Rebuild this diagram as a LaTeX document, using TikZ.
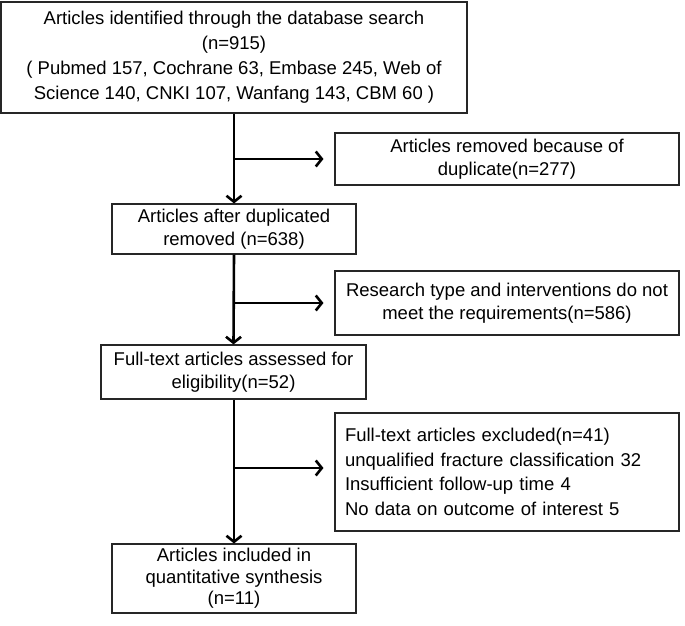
\documentclass[tikz,border=0pt]{standalone}
\usepackage{fontspec}
\setmainfont{Liberation Sans}
\usetikzlibrary{arrows.meta,calc}
\begin{document}
\begin{tikzpicture}[x=1pt,y=-1pt,
  box/.style={draw=black!85, line width=1.1pt, inner sep=0pt, align=center,
    font=\fontsize{18.5pt}{23pt}\selectfont},
  arr/.style={line width=2.6pt, -{Straight Barb[length=6pt,width=15pt]}}]
\useasboundingbox (0,0) rectangle (685,626);
\node[box, minimum width=466pt, minimum height=111pt, font=\fontsize{18.5pt}{25pt}\selectfont] (b1) at (234,57.5)
  {Articles identified through the database search\\(n=915)\\( Pubmed 157, Cochrane 63, Embase 245, Web of\\Science 140, CNKI 107, Wanfang 143, CBM 60 )};
\node[box, minimum width=344pt, minimum height=52pt] (r1) at (507,159)
  {Articles removed because of\\duplicate(n=277)};
\node[box, minimum width=244pt, minimum height=50pt] (b2) at (234,229)
  {Articles after duplicated\\removed (n=638)};
\node[box, minimum width=344pt, minimum height=64pt] (r2) at (507,303)
  {Research type and interventions do not\\meet the requirements(n=586)};
\node[box, minimum width=265pt, minimum height=54pt] (b3) at (233.5,372)
  {Full-text articles assessed for\\eligibility(n=52)};
\node[box, minimum width=344pt, minimum height=118pt, align=left, text width=324pt,
  font=\fontsize{18.5pt}{24.5pt}\selectfont] (r3) at (507,472)
  {Full-text articles excluded(n=41)\\unqualified fracture classification 32\\Insufficient follow-up time 4\\No data on outcome of interest 5};
\node[box, minimum width=244pt, minimum height=69pt, font=\fontsize{18.5pt}{21.5pt}\selectfont] (b5) at (234,578.5)
  {Articles included in\\quantitative synthesis\\(n=11)};
\coordinate (j1) at (234,159);
\coordinate (j2) at (234,303);
\coordinate (j3) at (234,468);
\draw[arr] (b1.south) -- (b2.north);
\draw[arr] (b2.south) -- (b3.north);
\draw[arr] (b3.south -| b2.south) -- (b5.north);
\draw[arr] (j1) -- ($(j1 -| r1.west)+(-11,0)$);
\draw[arr] (j2) -- ($(j2 -| r2.west)+(-11,0)$);
\draw[arr] (j3) -- ($(j3 -| r3.west)+(-11,0)$);
\end{tikzpicture}
\end{document}
